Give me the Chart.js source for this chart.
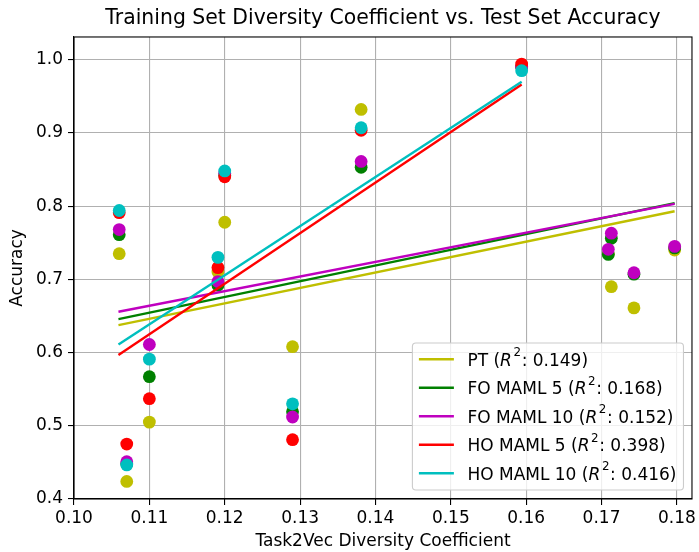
<!DOCTYPE html>
<html><head><meta charset="utf-8">
<script src="https://cdn.jsdelivr.net/npm/chart.js@4.4.1/dist/chart.umd.min.js"></script>
<style>html,body{margin:0;padding:0;background:#fff}#wrap{position:relative;width:699px;height:552px}</style>
</head><body><div id="wrap"><canvas id="c" width="699" height="552"></canvas></div>
<script>
// ---- data ----
const chartTitle = 'Training Set Diversity Coefficient vs. Test Set Accuracy';
const xTitle = 'Task2Vec Diversity Coefficient';
const yTitle = 'Accuracy';
const xTicks = [0.10, 0.11, 0.12, 0.13, 0.14, 0.15, 0.16, 0.17, 0.18];
const yTicks = [0.4, 0.5, 0.6, 0.7, 0.8, 0.9, 1.0];

const seriesNames = ['PT', 'FO MAML 5', 'FO MAML 10', 'HO MAML 5', 'HO MAML 10'];
const r2Values = ['0.149', '0.168', '0.152', '0.398', '0.416'];

// diversity coefficients of the training sets
const xAll = [0.1060, 0.1070, 0.1100, 0.1191, 0.1200, 0.1290, 0.1381, 0.1594, 0.1709, 0.1713, 0.1743, 0.1797];
const xHO  = [0.1060, 0.1070, 0.1100, 0.1191, 0.1200, 0.1290, 0.1381, 0.1594];

const accPT    = [0.735, 0.424, 0.505, 0.710, 0.778, 0.608, 0.932, 0.990, 0.735, 0.690, 0.661, 0.740];
const accFO5   = [0.761, 0.448, 0.567, 0.692, 0.842, 0.519, 0.853, 0.990, 0.734, 0.756, 0.707, 0.743];
const accFO10  = [0.768, 0.451, 0.611, 0.697, 0.845, 0.512, 0.861, 0.990, 0.741, 0.763, 0.709, 0.745];
const accHO5   = [0.791, 0.475, 0.537, 0.716, 0.840, 0.481, 0.9035, 0.994];
const accHO10  = [0.794, 0.4465, 0.591, 0.730, 0.848, 0.530, 0.907, 0.985];

// fitted regression lines (start / end)
const fitXPT   = [0.1059, 0.1797]; const fitYPT   = [0.6375, 0.793];
const fitXFO5  = [0.1059, 0.1797]; const fitYFO5  = [0.6457, 0.804];
const fitXFO10 = [0.1059, 0.1797]; const fitYFO10 = [0.6557, 0.803];
const fitXHO5  = [0.1059, 0.1594]; const fitYHO5  = [0.5966, 0.966];
const fitXHO10 = [0.1059, 0.1594]; const fitYHO10 = [0.6110, 0.970];

// ---- styles ----
const colors = ['#bfbf00', '#008000', '#bf00bf', '#ff0000', '#00bfbf'];
const FONT = '"DejaVu Sans", sans-serif';

const pts = (xs, ys) => xs.map((x, i) => ({x: x, y: ys[i]}));
const seriesX = [xAll, xAll, xAll, xHO, xHO];
const seriesY = [accPT, accFO5, accFO10, accHO5, accHO10];
const fitX = [fitXPT, fitXFO5, fitXFO10, fitXHO5, fitXHO10];
const fitY = [fitYPT, fitYFO5, fitYFO10, fitYHO5, fitYHO10];

const datasets = [];
let seq = 0;
seriesNames.forEach((name, i) => {
  datasets.push({
    type: 'scatter', label: name, data: pts(seriesX[i], seriesY[i]),
    backgroundColor: colors[i], borderColor: colors[i], borderWidth: 0,
    pointRadius: 6.4, pointHoverRadius: 6.4, order: 100 - (seq++)
  });
  datasets.push({
    type: 'line', label: name + ' fit', data: pts(fitX[i], fitY[i]),
    borderColor: colors[i], backgroundColor: colors[i], borderWidth: 2.4,
    pointRadius: 0, showLine: true, fill: false, tension: 0, order: 100 - (seq++)
  });
});

const framePlugin = {
  id: 'frame',
  afterDraw(chart) {
    const {ctx, chartArea: a} = chart;
    ctx.save();
    ctx.strokeStyle = '#000'; ctx.lineWidth = 1.1;
    ctx.strokeRect(a.left, a.top, a.right - a.left, a.bottom - a.top);
    ctx.restore();

    // legend (matplotlib style, lower right inside axes)
    const fs = 17;
    const fN = `${fs}px ${FONT}`, fI = `italic ${fs}px ${FONT}`, fS = `${(fs * 0.7).toFixed(1)}px ${FONT}`;
    const parts = (i) => [
      {t: seriesNames[i] + ' (', f: fN, dy: 0},
      {t: 'R', f: fI, dy: 0},
      {t: '2', f: fS, dy: -9.3, pre: 1.6},
      {t: ': ' + r2Values[i] + ')', f: fN, dy: 0, pre: 0.6}
    ];
    ctx.save();
    const widths = seriesNames.map((n, i) => parts(i).reduce((w, p) => { ctx.font = p.f; return w + (p.pre || 0) + ctx.measureText(p.t).width; }, 0));
    const maxW = Math.max(...widths);
    const pad = 6.5, hLen = 35, hGap = 13.5, rowH = 28.5, firstRow = 16.3;
    const boxW = pad + hLen + hGap + maxW + 7;
    const boxH = firstRow + rowH * (seriesNames.length - 1) + 16.7;
    const right = a.right - 8.5, bottom = a.bottom - 9;
    const left = right - boxW, top = bottom - boxH;
    ctx.beginPath();
    ctx.roundRect(left, top, boxW, boxH, 3.5);
    ctx.fillStyle = 'rgba(255,255,255,0.8)'; ctx.fill();
    ctx.strokeStyle = '#cccccc'; ctx.lineWidth = 1.1; ctx.stroke();
    seriesNames.forEach((n, i) => {
      const y = top + firstRow + i * rowH;
      ctx.beginPath();
      ctx.moveTo(left + pad, y); ctx.lineTo(left + pad + hLen, y);
      ctx.strokeStyle = colors[i]; ctx.lineWidth = 2.4; ctx.stroke();
      let x = left + pad + hLen + hGap;
      ctx.fillStyle = '#000'; ctx.textBaseline = 'alphabetic'; ctx.textAlign = 'left';
      parts(i).forEach(p => {
        ctx.font = p.f; x += (p.pre || 0);
        ctx.fillText(p.t, x, y + 6.4 + p.dy);
        x += ctx.measureText(p.t).width;
      });
    });
    ctx.restore();
  }
};

const tickFont = {family: FONT, size: 17};
new Chart(document.getElementById('c'), {
  data: {datasets},
  options: {
    responsive: false, animation: false, devicePixelRatio: 1,
    layout: {padding: {left: 0, right: 5, top: 0, bottom: 0}},
    plugins: {
      legend: {display: false}, tooltip: {enabled: false},
      title: {display: true, fullSize: false, text: chartTitle, color: '#000',
        font: {family: FONT, size: 20.4, weight: 'normal'}, padding: {top: 6, bottom: 6.5}}
    },
    scales: {
      x: {
        type: 'linear', position: 'bottom', min: 0.10, max: 0.182,
        afterBuildTicks: s => { s.ticks = xTicks.map(v => ({value: v})); },
        afterFit: s => { s.height = 53; },
        ticks: {callback: v => Number(v).toFixed(2), color: '#000', font: tickFont, padding: 3, maxRotation: 0, autoSkip: false},
        grid: {color: '#b0b0b0', lineWidth: 1.1, tickLength: 6, tickColor: '#000', tickWidth: 1.1},
        border: {color: '#000', width: 1.1},
        title: {display: true, text: xTitle, color: '#000', font: tickFont, padding: {top: 0, bottom: 0}}
      },
      y: {
        type: 'linear', position: 'left', min: 0.4, max: 1.031,
        afterBuildTicks: s => { s.ticks = yTicks.map(v => ({value: v})); },
        afterFit: s => { s.width = 74; },
        ticks: {callback: v => Number(v).toFixed(1), color: '#000', font: tickFont, padding: 5, autoSkip: false},
        grid: {color: '#b0b0b0', lineWidth: 1.1, tickLength: 6, tickColor: '#000', tickWidth: 1.1},
        border: {color: '#000', width: 1.1},
        title: {display: true, text: yTitle, color: '#000', font: tickFont, padding: {top: 7, bottom: 0}}
      }
    }
  },
  plugins: [framePlugin]
});
</script></body></html>
